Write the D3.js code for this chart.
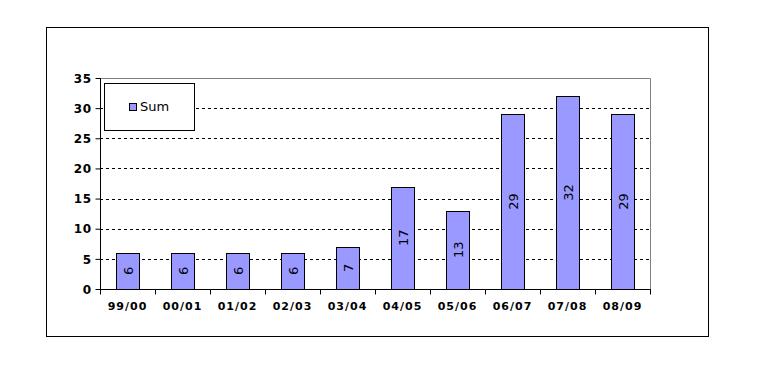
<!DOCTYPE html>
<html>
<head>
  <script src="https://d3js.org/d3.v7.min.js"></script>
  <style>
    body { margin: 0; background: white; }
    text { font-family: "DejaVu Sans", Verdana, sans-serif; }
  </style>
</head>
<body>
  <svg id="chart" width="757" height="365"></svg>
  <script>
    const seasons = ["99/00", "00/01", "01/02", "02/03", "03/04", "04/05", "05/06", "06/07", "07/08", "08/09"];
    const sums = [6, 6, 6, 6, 7, 17, 13, 29, 32, 29];
    const yTicks = [0, 5, 10, 15, 20, 25, 30, 35];
    const seriesName = "Sum";

    const svg = d3.select("svg#chart");
    const plot = { left: 100, right: 650, top: 78, bottom: 289 };

    // outer frame
    svg.append("rect")
      .attr("x", 46.5).attr("y", 27.5)
      .attr("width", 662).attr("height", 309)
      .attr("fill", "white").attr("stroke", "black").attr("stroke-width", 1);

    const x = d3.scaleBand().domain(seasons).range([plot.left, plot.right]).paddingInner(0.58).paddingOuter(0.29);
    const xb = d3.scaleBand().domain(seasons).range([plot.left, plot.right]);
    const y = d3.scaleLinear().domain([0, 35]).range([plot.bottom, plot.top]);

    // gray plot border (top + right)
    svg.append("path")
      .attr("d", `M${plot.left},${plot.top + 0.5}H${plot.right + 0.5}V${plot.bottom}`)
      .attr("fill", "none").attr("stroke", "#808080");

    // dashed gridlines
    yTicks.filter(t => t > 0 && t < 35).forEach(t => {
      svg.append("line")
        .attr("x1", plot.left).attr("x2", plot.right)
        .attr("y1", Math.round(y(t)) + 0.5).attr("y2", Math.round(y(t)) + 0.5)
        .attr("stroke", "black").attr("stroke-dasharray", "3,3");
    });

    // bars
    svg.selectAll("rect.bar").data(sums).enter().append("rect")
      .attr("class", "bar")
      .attr("x", (d, i) => Math.round(x(seasons[i])) + 0.5)
      .attr("y", d => Math.round(y(d)) + 0.5)
      .attr("width", Math.round(x.bandwidth()))
      .attr("height", d => Math.round(y(0)) - Math.round(y(d)))
      .attr("fill", "#9999ff").attr("stroke", "black");

    // value labels, rotated
    svg.selectAll("text.val").data(sums).enter().append("text")
      .attr("class", "val")
      .attr("transform", (d, i) => `translate(${x(seasons[i]) + x.bandwidth() / 2 + 5},${(y(d) + y(0)) / 2}) rotate(-90)`)
      .attr("text-anchor", "middle")
      .style("font-size", "13px")
      .text(d => d);

    // y axis
    const yAxis = d3.axisLeft(y).tickValues(yTicks).tickSize(5).tickPadding(4);
    const gy = svg.append("g").attr("transform", `translate(${plot.left + 0.5},0)`).call(yAxis);
    gy.select(".domain").attr("d", `M-0,${plot.top}V${plot.bottom + 0.5}`);
    gy.selectAll("text").style("font-family", "DejaVu Sans").style("font-size", "12px")
      .style("font-weight", "bold").style("letter-spacing", "0.5px").attr("fill", "black").attr("dy", "0.35em");

    // x axis with ticks at band boundaries
    const gx = svg.append("g").attr("transform", `translate(0,${plot.bottom + 0.5})`);
    gx.append("line").attr("x1", plot.left).attr("x2", plot.right + 1).attr("stroke", "black");
    const bounds = seasons.map(s => xb(s)).concat([plot.right]);
    bounds.forEach(b => {
      gx.append("line").attr("x1", b + 0.5).attr("x2", b + 0.5).attr("y1", 0).attr("y2", 5).attr("stroke", "black");
    });
    gx.selectAll("text").data(seasons).enter().append("text")
      .attr("x", d => xb(d) + xb.bandwidth() / 2)
      .attr("y", 20)
      .attr("text-anchor", "middle")
      .style("font-size", "11px").style("font-weight", "bold").style("letter-spacing", "1px")
      .text(d => d);

    // legend
    const lg = svg.append("g");
    lg.append("rect").attr("x", 104.5).attr("y", 83.5).attr("width", 90).attr("height", 47)
      .attr("fill", "white").attr("stroke", "black");
    lg.append("rect").attr("x", 129.5).attr("y", 103.5).attr("width", 7).attr("height", 7)
      .attr("fill", "#9999ff").attr("stroke", "black");
    lg.append("text").attr("x", 140).attr("y", 111).style("font-size", "13px").text(seriesName);
  </script>
</body>
</html>
